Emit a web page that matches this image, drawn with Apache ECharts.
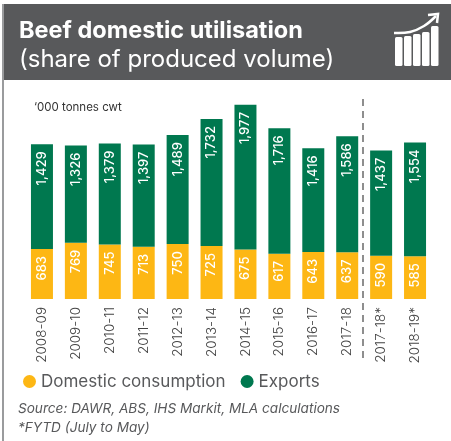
<!DOCTYPE html>
<html>
<head>
<meta charset="utf-8">
<style>html,body{margin:0;padding:0;background:#fff}#chart{width:451px;height:441px}</style>
<script src="https://cdn.jsdelivr.net/npm/echarts@6/dist/echarts.min.js"></script>
</head>
<body>
<div id="chart"></div>
<script>
const seasons = ['2008-09','2009-10','2010-11','2011-12','2012-13','2013-14','2014-15','2015-16','2016-17','2017-18','2017-18*','2018-19*'];
const domestic = [683,769,745,713,750,725,675,617,643,637,590,585];
const exports_ = [1429,1326,1379,1397,1489,1732,1977,1716,1416,1586,1437,1554];

const FONT = 'Inter';
const GREEN = '#00784f';
const YELLOW = '#fdb714';
const GREY = '#58595b';

const barLabel = {
  show: true,
  rotate: 90,
  position: 'insideTop',
  distance: 7,
  align: 'right',
  verticalAlign: 'middle',
  color: '#fff',
  fontFamily: FONT,
  fontSize: 13,
  fontWeight: 500,
  formatter: p => p.value.toLocaleString('en-US')
};

const chart = echarts.init(document.getElementById('chart'), null, {renderer: 'canvas'});
chart.setOption({
  animation: false,
  backgroundColor: '#fff',
  title: {
    text: 'Beef domestic utilisation',
    subtext: '(share of produced volume)',
    left: 19,
    top: 17,
    itemGap: 0,
    padding: 0,
    textStyle: {color: '#fff', fontFamily: FONT, fontSize: 23.5, fontWeight: 700, lineHeight: 28},
    subtextStyle: {color: '#fff', fontFamily: FONT, fontSize: 24, fontWeight: 400, lineHeight: 29},
    z: 10
  },
  legend: {
    left: 23,
    top: 373,
    padding: 0,
    itemWidth: 13,
    itemHeight: 13,
    itemGap: 15,
    icon: 'circle',
    textStyle: {color: '#58595b', fontFamily: FONT, fontSize: 17},
    data: ['Domestic consumption', 'Exports']
  },
  grid: {left: 25, right: 19, top: 94, bottom: 142},
  xAxis: {
    type: 'category',
    data: seasons,
    axisLine: {show: false},
    axisTick: {show: false},
    axisLabel: {rotate: 90, interval: 0, margin: 8, color: '#444', fontFamily: FONT, fontSize: 13.5, fontWeight: 300}
  },
  yAxis: {type: 'value', min: 0, max: 2800, show: false, splitLine: {show: false}},
  series: [
    {name: 'Domestic consumption', type: 'bar', stack: 'volume', barWidth: 22, data: domestic,
     itemStyle: {color: YELLOW}, label: barLabel},
    {name: 'Exports', type: 'bar', stack: 'volume', barWidth: 22, data: exports_,
     itemStyle: {color: GREEN}, label: barLabel}
  ],
  graphic: [
    // header band and outer frame
    {type: 'rect', z: -1, shape: {x: 3, y: 4, width: 448, height: 76}, style: {fill: GREY}},
    {type: 'rect', z: -1, shape: {x: 2, y: 4, width: 2, height: 437}, style: {fill: '#9a9b9d'}},
    // unit note
    {type: 'text', x: 34, y: 102, style: {text: '‘000 tonnes cwt', fill: '#333', fontFamily: FONT, fontSize: 11.5}},
    // divider between full years and year-to-date
    {type: 'line', z: 5, shape: {x1: 363, y1: 99, x2: 363, y2: 358}, style: {stroke: '#444', lineWidth: 1.2, lineDash: [7, 5]}},
    // rising-bars emblem
    ...[395, 404, 413, 422, 431].map((x, i) => ({
      type: 'rect', z: 10,
      shape: {x, y: [37, 36, 34, 32, 26][i], width: 7.5, height: [29, 30, 32, 34, 40][i], r: 1.5},
      style: {fill: '#fff'}
    })),
    {type: 'polyline', z: 10, shape: {points: [[394, 33], [410, 32], [424, 26], [436, 16]], smooth: 0.4},
     style: {stroke: '#fff', lineWidth: 2.5, fill: null}},
    {type: 'polyline', z: 10, shape: {points: [[428, 15], [438, 14], [437, 23]]}, style: {stroke: '#fff', lineWidth: 2.5, fill: null}},
    // source notes
    {type: 'text', x: 18, y: 402, style: {text: 'Source: DAWR, ABS, IHS Markit, MLA calculations', fill: '#58595b', fontFamily: FONT, fontStyle: 'italic', fontSize: 13.6}},
    {type: 'text', x: 18, y: 421, style: {text: '*FYTD (July to May)', fill: '#58595b', fontFamily: FONT, fontStyle: 'italic', fontSize: 13.6}}
  ]
});
</script>
</body>
</html>
